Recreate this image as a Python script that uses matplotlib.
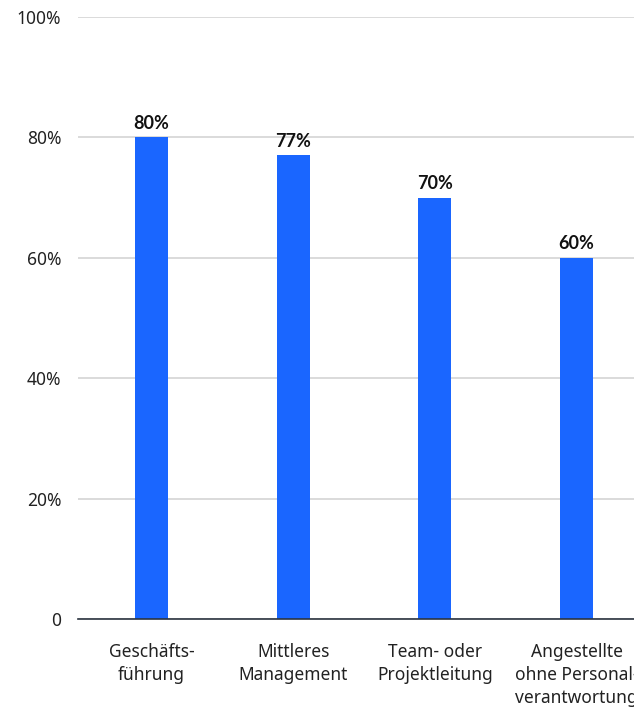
import matplotlib
matplotlib.use('AGG')
import numpy as np
import matplotlib.pyplot as plt

categories = ["Geschäfts-\nführung", "Mittleres\nManagement", "Team- oder\nProjektleitung",
              "Angestellte\nohne Personal-\nverantwortung"]
values = [80, 77, 70, 60]
yticks = [0, 20, 40, 60, 80, 100]
ytick_labels = ["0", "20%", "40%", "60%", "80%", "100%"]

plt.rcParams['font.family'] = ['Noto Sans', 'DejaVu Sans']

W, H = 634, 708
fig = plt.figure(figsize=(W/100, H/100), dpi=100)
# axes runs past the right edge of the figure, so the last label gets cut
ax = fig.add_axes([78/W, 1-619/H, 566/W, 602/H])

x = np.arange(len(categories))
ax.bar(x, values, width=0.233, color="#1a66ff", zorder=3)
for xi, v in zip(x, values):
    ax.text(xi, v + 0.9, "{:d}%".format(v), ha="center", va="bottom",
            fontsize=13, fontweight="bold", color="#111111",
            family=['Lato', 'DejaVu Sans'])

step = 141.67
ax.set_xlim(-73.5/step, -73.5/step + 566/step)
ax.set_ylim(0, 100)
ax.set_yticks(yticks)
ax.set_yticklabels(ytick_labels)
ax.set_xticks(x)
ax.set_xticklabels(categories, linespacing=1.38)
ax.tick_params(axis='both', length=0, labelsize=12.5, colors="#222222")
ax.tick_params(axis='y', pad=12)
ax.tick_params(axis='x', pad=17)
ax.yaxis.grid(True, color="#d4d4d4", linewidth=1.2, zorder=0)
for s in ["top", "right", "left"]:
    ax.spines[s].set_visible(False)
ax.spines["bottom"].set_color("#2b3440")
ax.spines["bottom"].set_linewidth(1.2)
ax.spines["bottom"].set_zorder(4)

fig.savefig("out.png", dpi=100)
